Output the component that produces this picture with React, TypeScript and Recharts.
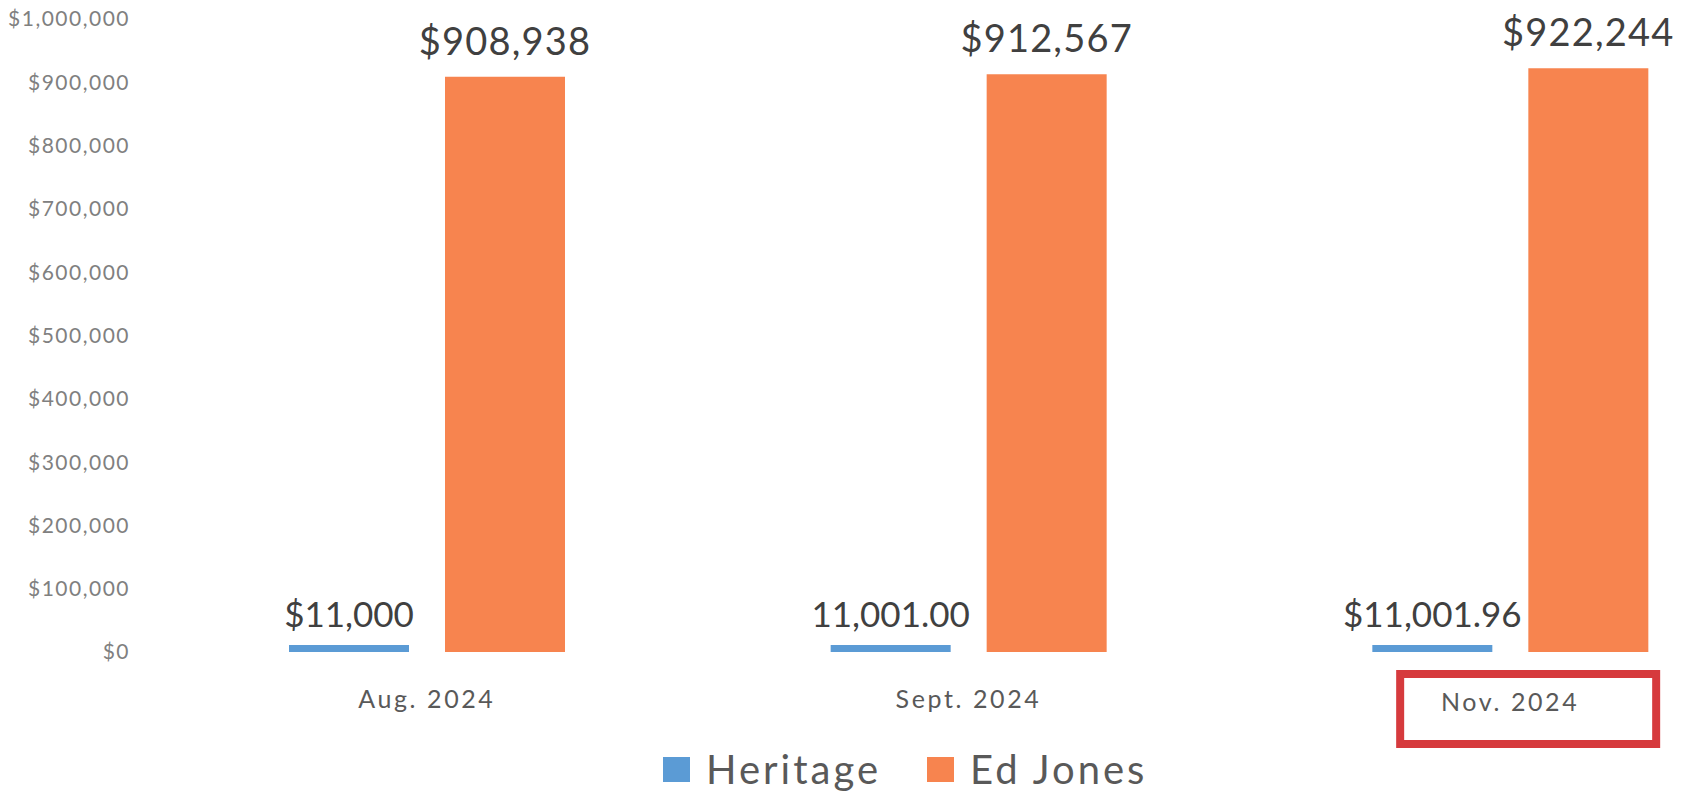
import { Bar, BarChart, LabelList, Legend, XAxis, YAxis } from "recharts";

const CATEGORIES = ["Aug. 2024", "Sept. 2024", "Nov. 2024"];
const SERIES_NAMES = ["Heritage", "Ed Jones"];
const HERITAGE_VALUES = [11000, 11001, 11001.96];
const ED_JONES_VALUES = [908938, 912567, 922244];
const HERITAGE_LABELS = ["$11,000", "11,001.00", "$11,001.96"];
const ED_JONES_LABELS = ["$908,938", "$912,567", "$922,244"];
const Y_TICKS = [0, 100000, 200000, 300000, 400000, 500000, 600000, 700000, 800000, 900000, 1000000];
const HIGHLIGHTED = "Nov. 2024";

const BLUE = "#5b9bd5";
const ORANGE = "#f7844f";
const FONT = "Lato, 'Open Sans', sans-serif";

const data = CATEGORIES.map((name, i) => ({
  name,
  heritage: HERITAGE_VALUES[i],
  edJones: ED_JONES_VALUES[i],
  heritageLabel: HERITAGE_LABELS[i],
  edJonesLabel: ED_JONES_LABELS[i],
}));

const formatMoney = (v: number) => "$" + v.toLocaleString("en-US");

function CategoryTick({ x, y, payload }: any) {
  const boxed = payload.value === HIGHLIGHTED;
  return (
    <g transform={`translate(${x},${y})`}>
      {boxed && (
        <rect x={-110} y={22} width={256} height={70} fill="#fff" stroke="#d63a3d" strokeWidth={8} />
      )}
      <text
        x={0}
        y={0}
        dy={boxed ? 59 : 56}
        textAnchor="middle"
        fill="#595959"
        fontSize={25}
        letterSpacing={2.6}
        fontFamily={FONT}
      >
        {payload.value}
      </text>
    </g>
  );
}

function LegendContent({ payload }: any) {
  const items = [...(payload || [])].sort(
    (a: any, b: any) => SERIES_NAMES.indexOf(a.value) - SERIES_NAMES.indexOf(b.value),
  );
  return (
    <div style={{ display: "flex", alignItems: "center", height: 40, fontFamily: FONT }}>
      {items.map((entry: any) => (
        <div key={entry.value} style={{ display: "flex", alignItems: "center", marginRight: 46 }}>
          <span style={{ width: 27, height: 25, background: entry.color, marginRight: 16 }} />
          <span style={{ fontSize: 40, color: "#595959", letterSpacing: 3 }}>{entry.value}</span>
        </div>
      ))}
    </div>
  );
}

export default function App() {
  return (
    <div
      style={{
        position: "absolute",
        left: 0,
        top: 0,
        width: 1685,
        height: 793,
        overflow: "hidden",
        background: "#fff",
      }}
    >
      <BarChart
        width={1785}
        height={793}
        data={data}
        barSize={120}
        barGap={36}
        margin={{ top: 19, right: 4, left: 16, bottom: 41 }}
      >
        <XAxis
          dataKey="name"
          axisLine={false}
          tickLine={false}
          tickSize={0}
          tickMargin={0}
          height={60}
          interval={0}
          tick={<CategoryTick />}
        />
        <YAxis
          domain={[0, 1000000]}
          ticks={Y_TICKS}
          axisLine={false}
          tickLine={false}
          tickSize={0}
          tickMargin={26}
          width={140}
          tickFormatter={(v) => formatMoney(Number(v))}
          tick={{ fill: "#808080", fontSize: 21, fontFamily: FONT, letterSpacing: 1.5 }}
        />
        <Legend
          verticalAlign="bottom"
          content={<LegendContent />}
          wrapperStyle={{ left: 663, bottom: 4, width: "auto" }}
        />
        <Bar dataKey="heritage" name="Heritage" fill={BLUE} isAnimationActive={false}>
          <LabelList
            dataKey="heritageLabel"
            position="top"
            offset={18}
            fill="#404040"
            fontSize={35}
            fontFamily={FONT}
          />
        </Bar>
        <Bar dataKey="edJones" name="Ed Jones" fill={ORANGE} isAnimationActive={false}>
          <LabelList
            dataKey="edJonesLabel"
            position="top"
            offset={22}
            fill="#404040"
            fontSize={38}
            letterSpacing={1.2}
            fontFamily={FONT}
          />
        </Bar>
      </BarChart>
    </div>
  );
}
